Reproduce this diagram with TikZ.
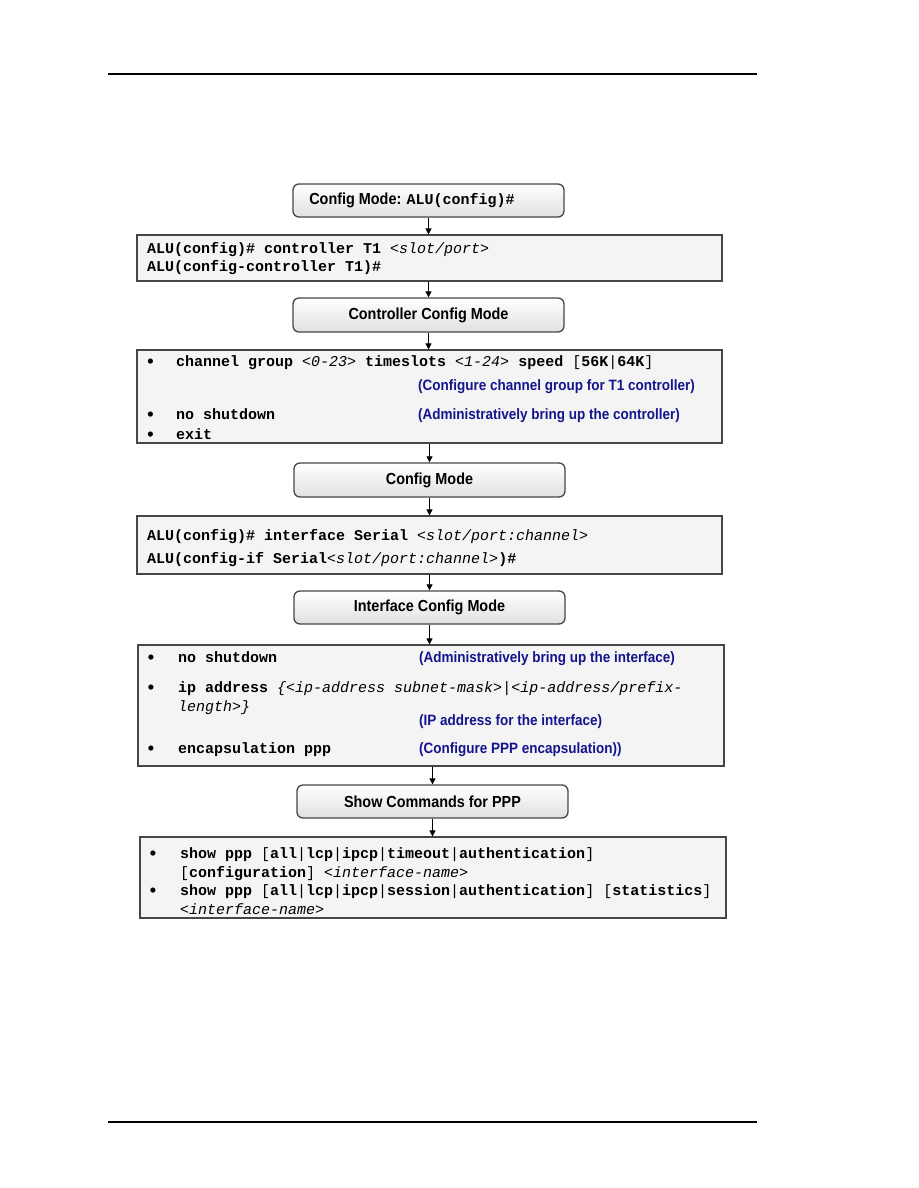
\documentclass[tikz,border=0pt]{standalone}
\usepackage{fontspec}
\setmainfont{Liberation Sans}
\setmonofont{Liberation Mono}
\newfontfamily\narrowsans[FakeStretch=0.9]{Liberation Sans}
\usetikzlibrary{arrows.meta}
\definecolor{notecol}{RGB}{20,20,140}
\definecolor{boxfill}{RGB}{244,244,244}
\definecolor{boxline}{RGB}{70,70,70}
\newcommand\kw[1]{{\bfseries #1}}
\newcommand\ar[1]{{\mdseries\itshape #1}}
\newcommand\pl[1]{{\mdseries #1}}
\tikzset{
  modebox/.style={draw=boxline, line width=1.3pt, rounded corners=6pt, top color=white, bottom color=gray!24, inner sep=0pt, font=\narrowsans\bfseries\fontsize{16}{19}\selectfont},
  modelabel/.style={inner sep=0pt, font=\narrowsans\bfseries\fontsize{16}{19}\selectfont},
  cmdbox/.style={draw=boxline, line width=1.1pt, fill=boxfill, inner sep=0pt},
  cmd/.style={anchor=base west, inner sep=0pt, font=\ttfamily\bfseries\fontsize{15}{18}\selectfont},
  note/.style={anchor=base west, inner sep=0pt, text=notecol, font=\narrowsans\bfseries\fontsize{15}{18}\selectfont},
  dot/.style={anchor=base, inner sep=0pt, font=\bfseries\fontsize{18}{18}\selectfont},
  arr/.style={-{Triangle[length=6pt,width=6pt]}, line width=1pt},
  rule/.style={line width=1.3pt}
}
\begin{document}
\begin{tikzpicture}[x=1pt,y=-1pt]
\useasboundingbox (0,0) rectangle (918,1188);
% page rules
\draw[rule] (108,74) -- (757,74);
\draw[rule] (108,1122) -- (757,1122);

% boxes
\node[modebox, minimum width=271pt, minimum height=33pt] (m1) at (428.5,200.5) {};
\node[modelabel] (l1) at (412,200.5) {Config Mode: {\ttfamily\fontsize{15}{18}\selectfont ALU(config)\#}};
\node[cmdbox, minimum width=585pt, minimum height=46pt] (c2) at (429.5,258) {};
\node[modebox, minimum width=271pt, minimum height=34pt] (m3) at (428.5,315) {Controller Config Mode};
\node[cmdbox, minimum width=585pt, minimum height=93pt] (c4) at (429.5,396.5) {};
\node[modebox, minimum width=271pt, minimum height=34pt] (m5) at (429.5,480) {Config Mode};
\node[cmdbox, minimum width=585pt, minimum height=58pt] (c6) at (429.5,545) {};
\node[modebox, minimum width=271pt, minimum height=33pt] (m7) at (429.5,607.5) {Interface Config Mode};
\node[cmdbox, minimum width=586pt, minimum height=121pt] (c8) at (431,705.5) {};
\node[modebox, minimum width=271pt, minimum height=33pt] (m9) at (432.5,801.5) {Show Commands for PPP};
\node[cmdbox, minimum width=586pt, minimum height=81pt] (c10) at (433,877.5) {};

% connectors
\draw[arr] (m1.south) -- (m1.south |- c2.north);
\draw[arr] (c2.south -| m3.north) -- (m3.north);
\draw[arr] (m3.south) -- (m3.south |- c4.north);
\draw[arr] (c4.south -| m5.north) -- (m5.north);
\draw[arr] (m5.south) -- (m5.south |- c6.north);
\draw[arr] (c6.south -| m7.north) -- (m7.north);
\draw[arr] (m7.south) -- (m7.south |- c8.north);
\draw[arr] (c8.south -| m9.north) -- (m9.north);
\draw[arr] (m9.south) -- (m9.south |- c10.north);

% box 2 text
\node[cmd] (t21) at (147,253) {ALU(config)\# controller T1 \ar{<slot/port>}};
\node[cmd] (t22) at (147,271) {ALU(config-controller T1)\#};

% box 4 text
\node[dot] (d41) at (150.5,367) {•};
\node[cmd] (t41) at (176,366) {channel group \ar{<0-23>} timeslots \ar{<1-24>} speed \pl{[}56K\pl{|}64K\pl{]}};
\node[note] (n41) at (418,390) {(Configure channel group for T1 controller)};
\node[dot] (d42) at (150.5,420) {•};
\node[cmd] (t42) at (176,419) {no shutdown};
\node[note] (n42) at (418,419) {(Administratively bring up the controller)};
\node[dot] (d43) at (150.5,440) {•};
\node[cmd] (t43) at (176,439) {exit};

% box 6 text
\node[cmd] (t61) at (147,540) {ALU(config)\# interface Serial \ar{<slot/port:channel>}};
\node[cmd] (t62) at (147,563) {ALU(config-if Serial\ar{<slot/port:channel>})\#};

% box 8 text
\node[dot] (d81) at (151,663) {•};
\node[cmd] (t81) at (178,662) {no shutdown};
\node[note] (n81) at (419,662) {(Administratively bring up the interface)};
\node[dot] (d82) at (151,693) {•};
\node[cmd] (t82) at (178,692) {ip address \ar{\{<ip-address subnet-mask>}\pl{|}\ar{<ip-address/prefix-}};
\node[cmd] (t83) at (178,711) {\ar{length>\}}};
\node[note] (n82) at (419,725) {(IP address for the interface)};
\node[dot] (d83) at (151,754) {•};
\node[cmd] (t84) at (178,753) {encapsulation ppp};
\node[note] (n83) at (419,753) {(Configure PPP encapsulation))};

% box 10 text
\node[dot] (d101) at (153,859) {•};
\node[cmd] (t101) at (180,858) {show ppp \pl{[}all\pl{|}lcp\pl{|}ipcp\pl{|}timeout\pl{|}authentication\pl{]}};
\node[cmd] (t102) at (180,877) {\pl{[}configuration\pl{]} \ar{<interface-name>}};
\node[dot] (d102) at (153,896) {•};
\node[cmd] (t103) at (180,895) {show ppp \pl{[}all\pl{|}lcp\pl{|}ipcp\pl{|}session\pl{|}authentication\pl{]} \pl{[}statistics\pl{]}};
\node[cmd] (t104) at (180,914) {\ar{<interface-name>}};
\end{tikzpicture}
\end{document}
